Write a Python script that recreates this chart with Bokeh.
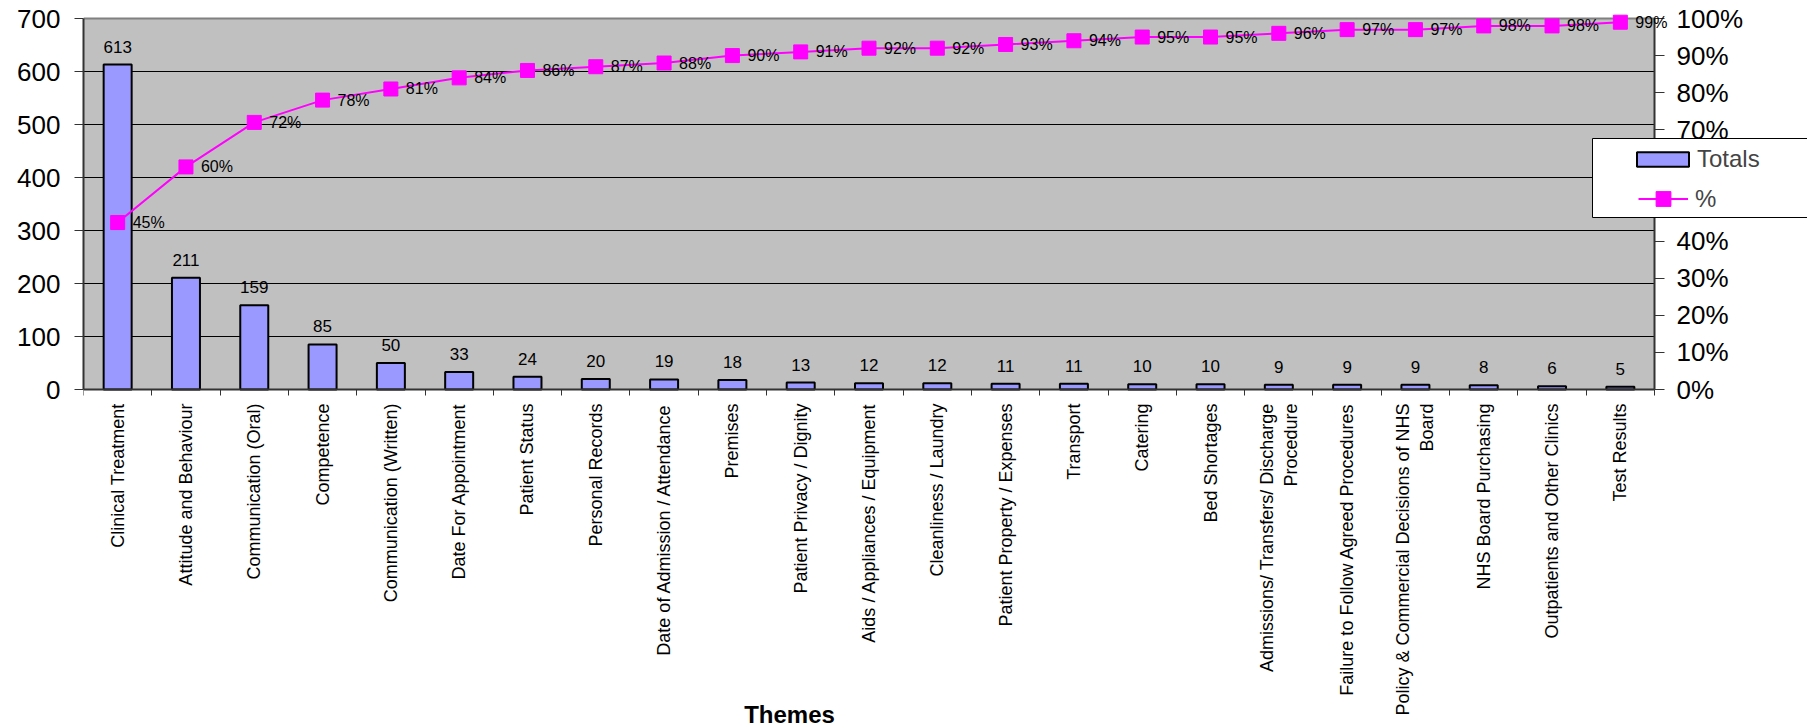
import math
from bokeh.plotting import figure
from bokeh.core.properties import value
from bokeh.models import (Range1d, LinearAxis, FixedTicker, NumeralTickFormatter,
                          ColumnDataSource, LabelSet, Label, Legend, LegendItem, BoxAnnotation)
from bokeh.embed import file_html
from bokeh.resources import INLINE

categories = [
    "Clinical Treatment", "Attitude and Behaviour", "Communication (Oral)", "Competence",
    "Communication (Written)", "Date For Appointment", "Patient Status", "Personal Records",
    "Date of Admission / Attendance", "Premises", "Patient Privacy / Dignity",
    "Aids / Appliances / Equipment", "Cleanliness / Laundry", "Patient Property / Expenses",
    "Transport", "Catering", "Bed Shortages", "Admissions/ Transfers/ Discharge\nProcedure",
    "Failure to Follow Agreed Procedures", "Policy & Commercial Decisions of NHS\nBoard",
    "NHS Board Purchasing", "Outpatients and Other Clinics", "Test Results",
]
totals = [613, 211, 159, 85, 50, 33, 24, 20, 19, 18, 13, 12, 12, 11, 11, 10, 10, 9, 9, 9, 8, 6, 5]
cum_pct = [45, 60, 72, 78, 81, 84, 86, 87, 88, 90, 91, 92, 92, 93, 94, 95, 95, 96, 97, 97, 98, 98, 99]
left_ticks = [0, 100, 200, 300, 400, 500, 600, 700]
right_ticks = [0, 0.1, 0.2, 0.3, 0.4, 0.5, 0.6, 0.7, 0.8, 0.9, 1.0]

FONT = "Liberation Sans"
W, H = 1807, 728
PL, PR, PT, PB = 83, 1654, 18, 389      # visible plot-area box in pixels
YMAX = 700

n = len(categories)
pos = [i + 0.5 for i in range(n)]
x_end = n * (W - PL) / (PR - PL)
y_per_px = YMAX / (PB - PT)
y_start = -y_per_px * (H - PB)
y_end = YMAX + y_per_px * PT

src = ColumnDataSource(dict(
    x=pos, total=totals, total_lbl=[str(v) for v in totals],
    pct=[v / 100 for v in cum_pct], pct_lbl=[f"{v}%" for v in cum_pct],
))

p = figure(width=W, height=H, output_backend="svg", toolbar_location=None,
           x_range=Range1d(0, x_end), y_range=Range1d(y_start, y_end),
           min_border_left=PL, min_border_right=0, min_border_top=0, min_border_bottom=0,
           x_axis_location=None, y_axis_location=None)
p.extra_y_ranges = {"pct": Range1d(y_start / YMAX, y_end / YMAX)}

p.background_fill_color = "white"
p.border_fill_color = "white"
p.outline_line_color = None
p.xgrid.visible = False
p.ygrid.visible = False

# grey plotting area, grid lines and top border
p.add_layout(BoxAnnotation(left=0, right=n, bottom=0, top=YMAX, fill_color="#C0C0C0",
                           fill_alpha=1, line_color=None, level="underlay"))
grid_y = left_ticks[1:-1]
p.segment(x0=[0] * len(grid_y), x1=[n] * len(grid_y), y0=grid_y, y1=grid_y,
          line_color="black", line_width=1)
p.segment(x0=[0], x1=[n], y0=[YMAX], y1=[YMAX], line_color="#808080", line_width=2)

# x axis (fixed at y=0)
xa = LinearAxis(fixed_location=0, bounds=(0, n),
                ticker=FixedTicker(ticks=pos, minor_ticks=list(range(n + 1))))
xa.major_label_overrides = {x: c for x, c in zip(pos, categories)}
xa.major_label_orientation = math.pi / 2
xa.major_tick_out = 0
xa.major_tick_in = 0
xa.minor_tick_out = 6
xa.minor_tick_in = 0
xa.minor_tick_line_color = "#333333"
xa.axis_line_color = "#333333"
xa.axis_line_width = 2
xa.major_label_standoff = 8
xa.major_label_text_font = FONT
xa.major_label_text_font_size = "18px"
xa.major_label_text_color = "black"
p.add_layout(xa, "below")

# left y axis
ya = LinearAxis(bounds=(0, YMAX), ticker=FixedTicker(ticks=left_ticks))
ya.major_tick_out = 9
ya.major_tick_in = 0
ya.minor_tick_line_color = None
ya.axis_line_color = "#333333"
ya.axis_line_width = 2
ya.major_tick_line_color = "#333333"
ya.major_label_standoff = 14
ya.major_label_text_font = FONT
ya.major_label_text_font_size = "26px"
ya.major_label_text_color = "black"
p.add_layout(ya, "left")

# right y axis (fixed at the right edge of the category area)
ra = LinearAxis(y_range_name="pct", fixed_location=n, bounds=(0, 1),
                ticker=FixedTicker(ticks=right_ticks),
                formatter=NumeralTickFormatter(format="0%"))
ra.major_tick_out = 10
ra.major_tick_in = 0
ra.minor_tick_line_color = None
ra.axis_line_color = "#333333"
ra.axis_line_width = 2
ra.major_tick_line_color = "#333333"
ra.major_label_standoff = 12
ra.major_label_text_font = FONT
ra.major_label_text_font_size = "26px"
ra.major_label_text_color = "black"
p.add_layout(ra, "right")

bars = p.vbar(x="x", top="total", width=0.41, source=src, fill_color="#9999FF",
              line_color="black", line_width=2)
line = p.line(x="x", y="pct", source=src, y_range_name="pct", line_color="#FF00FF", line_width=2)
marks = p.scatter(x="x", y="pct", source=src, y_range_name="pct", marker="square", size=14,
                  fill_color="#FF00FF", line_color="#FF00FF")

p.add_layout(LabelSet(x="x", y="total", text="total_lbl", source=src, text_align="center",
                      text_baseline="middle", y_offset=18, text_font=value(FONT),
                      text_font_size=value("17px"), text_color="black"))
p.add_layout(LabelSet(x="x", y="pct", text="pct_lbl", source=src, y_range_name="pct",
                      text_align="left", text_baseline="middle", x_offset=15,
                      text_font=value(FONT), text_font_size=value("16px"), text_color="black"))

p.add_layout(Label(x=706, y=H - 714, x_units="screen", y_units="screen", text="Themes",
                   text_font=FONT, text_font_style="bold", text_font_size="24px",
                   text_align="center", text_baseline="middle", text_color="black"))

# legend box
p.add_layout(BoxAnnotation(left=1592 - PL, right=1780, top=H - 138, bottom=H - 217,
                           left_units="screen", right_units="screen",
                           top_units="screen", bottom_units="screen",
                           fill_color="white", fill_alpha=1, line_color="black",
                           line_width=1, line_alpha=1))

leg1 = Legend(items=[LegendItem(label="Totals", renderers=[bars])], location=(1547, H - 173),
              glyph_width=65, glyph_height=18, label_standoff=2, padding=0, margin=0,
              spacing=0, background_fill_alpha=0, border_line_color=None,
              label_text_font=FONT, label_text_font_size="24px", label_height=24)
leg2 = Legend(items=[LegendItem(label="%", renderers=[line, marks])], location=(1555, H - 217),
              glyph_width=50, glyph_height=37, label_standoff=7, padding=0, margin=0,
              spacing=0, background_fill_alpha=0, border_line_color=None,
              label_text_font=FONT, label_text_font_size="24px", label_height=24)
p.add_layout(leg1)
p.add_layout(leg2)

open("out.html", "w").write(file_html(p, INLINE))
